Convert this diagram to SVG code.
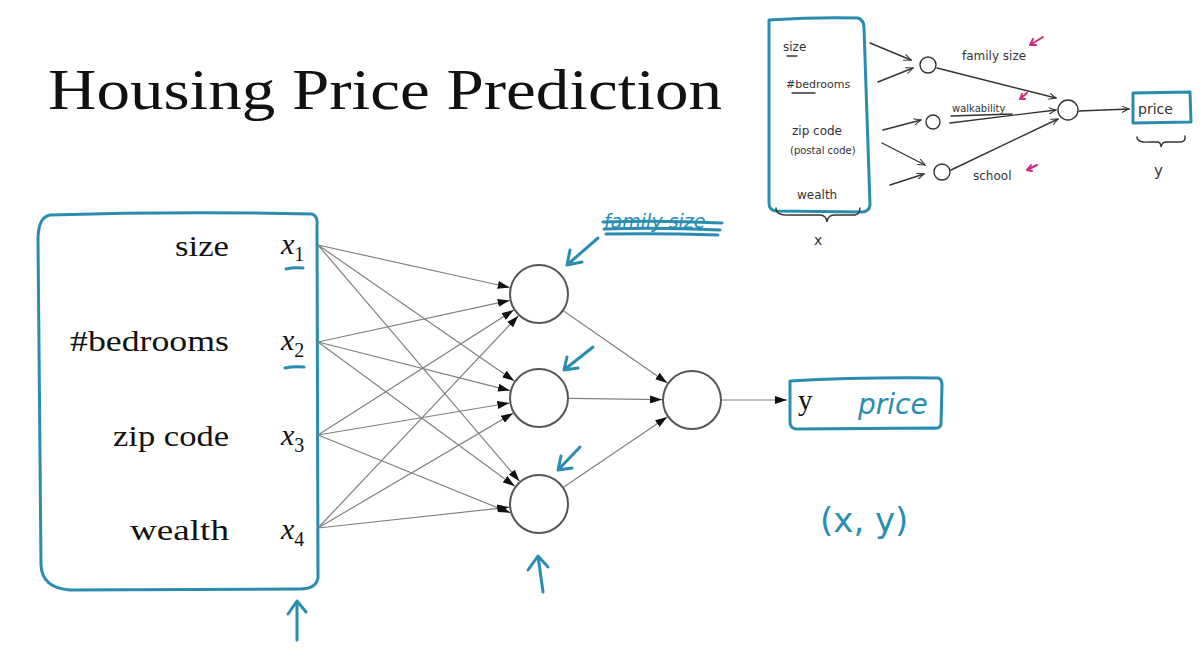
<svg xmlns="http://www.w3.org/2000/svg" width="1204" height="655" viewBox="0 0 1204 655">
<defs>
<style>
.serif{font-family:"Liberation Serif","DejaVu Serif",serif;fill:#111}
.hand{font-family:"DejaVu Sans","Liberation Sans",sans-serif}
.teal{stroke:#2a8db0;fill:none;stroke-width:3;stroke-linecap:round;stroke-linejoin:round}
.tealt{fill:#2a8db0}
.conn{stroke:#808080;stroke-width:1.2;fill:none}
.node{fill:#fff;stroke:#555;stroke-width:2}
.pen{stroke:#333;stroke-width:1.4;fill:none;stroke-linecap:round}
.mag{stroke:#d0287a;stroke-width:2;fill:none;stroke-linecap:round}
.sk{font-family:"DejaVu Sans","Liberation Sans",sans-serif;fill:#333}
</style>
<marker id="ah" viewBox="0 0 12 8" refX="12" refY="4" markerWidth="12" markerHeight="8" markerUnits="userSpaceOnUse" orient="auto">
<path d="M0,0 L12,4 L0,8 Z" fill="#111"/>
</marker>
<marker id="oa" viewBox="0 0 10 8" refX="9" refY="4" markerWidth="8" markerHeight="7" markerUnits="userSpaceOnUse" orient="auto">
<path d="M0,0 L9,4 L0,8" fill="none" stroke="#333" stroke-width="1.3"/>
</marker>
</defs>
<rect width="1204" height="655" fill="#fff"/>

<text class="serif" x="48" y="109" font-size="57" textLength="674" lengthAdjust="spacingAndGlyphs">Housing Price Prediction</text>

<g id="input-box">
<path class="teal" d="M50,215 Q180,211 312,214 Q318,216 317,225 L318,578 Q316,589 300,589 L70,590 Q42,588 41,565 L38,240 Q38,217 50,215 Z"/>
<text class="serif" x="229" y="256" font-size="29" text-anchor="end" textLength="54" lengthAdjust="spacingAndGlyphs">size</text>
<text class="serif" x="229" y="351" font-size="29" text-anchor="end" textLength="159" lengthAdjust="spacingAndGlyphs">#bedrooms</text>
<text class="serif" x="229" y="446" font-size="29" text-anchor="end" textLength="116" lengthAdjust="spacingAndGlyphs">zip code</text>
<text class="serif" x="229" y="540" font-size="29" text-anchor="end" textLength="99" lengthAdjust="spacingAndGlyphs">wealth</text>
<text class="serif" x="281" y="254" font-size="30" font-style="italic">x<tspan font-size="20" font-style="normal" dy="7">1</tspan></text>
<text class="serif" x="281" y="350" font-size="30" font-style="italic">x<tspan font-size="20" font-style="normal" dy="7">2</tspan></text>
<text class="serif" x="281" y="445" font-size="30" font-style="italic">x<tspan font-size="20" font-style="normal" dy="7">3</tspan></text>
<text class="serif" x="281" y="539" font-size="30" font-style="italic">x<tspan font-size="20" font-style="normal" dy="7">4</tspan></text>
<path class="teal" stroke-width="2.5" d="M286,269 Q294,267 303,268"/>
<path class="teal" stroke-width="2.5" d="M285,368 Q294,366 304,367"/>
</g>

<g id="connectors">
<path class="conn" marker-end="url(#ah)" d="M318,245 L509.7,287.5"/>
<path class="conn" marker-end="url(#ah)" d="M318,245 L514.3,380.9"/>
<path class="conn" marker-end="url(#ah)" d="M318,245 L519.5,481.2"/>
<path class="conn" marker-end="url(#ah)" d="M318,342 L509.7,300.4"/>
<path class="conn" marker-end="url(#ah)" d="M318,342 L509.9,390.6"/>
<path class="conn" marker-end="url(#ah)" d="M318,342 L514.8,486.3"/>
<path class="conn" marker-end="url(#ah)" d="M318,435 L513.7,310.1"/>
<path class="conn" marker-end="url(#ah)" d="M318,435 L509.4,403"/>
<path class="conn" marker-end="url(#ah)" d="M318,435 L510.4,512.9"/>
<path class="conn" marker-end="url(#ah)" d="M318,528 L518.4,315.8"/>
<path class="conn" marker-end="url(#ah)" d="M318,528 L513.1,413.2"/>
<path class="conn" marker-end="url(#ah)" d="M318,528 L509.2,507.2"/>
<path class="conn" marker-end="url(#ah)" d="M563.7,311.1 L667.3,382.9"/>
<path class="conn" marker-end="url(#ah)" d="M569,398.4 L662,399.6"/>
<path class="conn" marker-end="url(#ah)" d="M563.8,487.1 L667.2,416.9"/>
<path class="conn" marker-end="url(#ah)" d="M722,400 L787,400"/>
</g>

<g id="hidden-1"><circle class="node" cx="539" cy="294" r="29"/></g>
<g id="hidden-2"><circle class="node" cx="539" cy="398" r="29"/></g>
<g id="hidden-3"><circle class="node" cx="539" cy="504" r="29"/></g>
<g id="output"><circle class="node" cx="692" cy="400" r="29"/></g>

<g id="y-box">
<path class="teal" stroke-width="2.5" d="M790,381 Q860,377 938,378 Q942,379 942,385 L941,424 Q940,429 934,428 L796,429 Q790,428 790,422 Z"/>
<text class="serif" x="798" y="410" font-size="29">y</text>
<text class="hand tealt" x="858" y="414" font-size="28" font-style="italic">price</text>
</g>

<g id="annotations">
<text class="hand tealt" x="604" y="228" font-size="19" font-style="italic">family size</text>
<path class="teal" stroke-width="2" d="M603,222 Q660,220 722,223 M604,229 Q660,227 720,230 M606,234 Q660,233 718,235"/>
<path class="teal" stroke-width="2.5" d="M598,238 L567,265 M567,265 L570,250 M567,265 L582,262"/>
<path class="teal" stroke-width="2.5" d="M593,347 L564,370 M564,370 L567,357 M564,370 L578,368"/>
<path class="teal" stroke-width="2.5" d="M580,447 L558,470 M558,470 L561,456 M558,470 L572,468"/>
<path class="teal" stroke-width="2.5" d="M543,592 L538,556 M528,570 L538,556 L548,567"/>
<path class="teal" stroke-width="2.5" d="M297,640 L297,601 M288,614 L297,601 L306,612"/>
<text class="hand tealt" x="820" y="532" font-size="34">(x, y)</text>
</g>

<g id="sketch">
<path class="teal" stroke-width="2" d="M769,20 Q815,17 858,18 Q864,20 864,28 L870,205 Q869,212 862,212 L776,211 Q769,210 769,203 Z"/>
<text class="sk" x="783" y="51" font-size="12">size</text>
<path class="pen" d="M787,56 L797,56"/>
<text class="sk" x="786" y="88" font-size="11">#bedrooms</text>
<path class="pen" d="M792,93 L815,93"/>
<text class="sk" x="792" y="135" font-size="12">zip code</text>
<text class="sk" x="790" y="154" font-size="10">(postal code)</text>
<text class="sk" x="797" y="199" font-size="12">wealth</text>
<path class="pen" d="M776,208 Q776,216 790,215 L820,215 Q826,215 827,222 Q828,215 834,215 L855,215 Q860,214 860,208"/>
<text class="sk" x="814" y="245" font-size="14">x</text>
<path class="pen" marker-end="url(#oa)" d="M870,43 L911,60"/>
<path class="pen" marker-end="url(#oa)" d="M878,82 L913,68"/>
<path class="pen" marker-end="url(#oa)" d="M883,130 L921,120"/>
<path class="pen" marker-end="url(#oa)" d="M882,143 L925,165"/>
<path class="pen" marker-end="url(#oa)" d="M890,185 L924,174"/>
<circle cx="928" cy="65" r="8" fill="#fff" stroke="#333" stroke-width="1.4"/>
<circle cx="933" cy="122" r="7" fill="#fff" stroke="#333" stroke-width="1.4"/>
<circle cx="942" cy="172" r="8" fill="#fff" stroke="#333" stroke-width="1.4"/>
<circle cx="1068" cy="110" r="10" fill="#fff" stroke="#333" stroke-width="1.4"/>
<path class="pen" marker-end="url(#oa)" d="M937,68 L1056,98"/>
<path class="pen" marker-end="url(#oa)" d="M950,123 L1056,110"/>
<path class="pen" marker-end="url(#oa)" d="M951,170 L1058,119"/>
<path class="pen" marker-end="url(#oa)" d="M1079,111 L1129,109"/>
<text class="sk" x="962" y="60" font-size="12">family size</text>
<text class="sk" x="952" y="112" font-size="10">walkability</text>
<path class="pen" d="M951,116 L1012,114"/>
<text class="sk" x="973" y="180" font-size="12">school</text>
<path class="mag" d="M1043,37 L1030,45 M1030,45 L1033,39 M1030,45 L1036,45"/>
<path class="mag" d="M1027,93 L1020,99 M1020,99 L1022,94 M1020,99 L1025,99"/>
<path class="mag" d="M1037,165 L1027,170 M1027,170 L1031,165 M1027,170 L1032,171"/>
<path class="teal" stroke-width="2" d="M1133,93 L1190,92 L1191,122 L1133,123 Z"/>
<text class="sk" x="1138" y="114" font-size="14">price</text>
<path class="pen" d="M1137,137 Q1137,143 1150,142 L1157,142 Q1161,142 1161,147 Q1162,142 1166,142 L1180,142 Q1186,142 1185,136"/>
<text class="sk" x="1154" y="176" font-size="15">y</text>
</g>
</svg>
